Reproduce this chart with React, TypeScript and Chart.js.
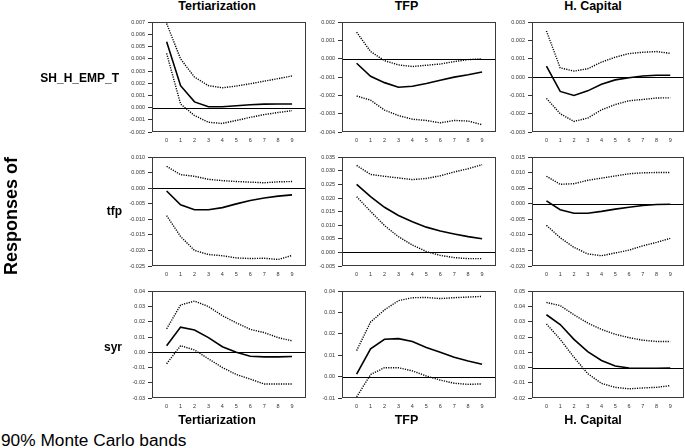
import React, { useEffect, useRef } from "react";
import { Chart, registerables } from "chart.js";

Chart.register(...registerables);

const FONT = "'Liberation Sans', Arial, Helvetica, sans-serif";

const periods = [0, 1, 2, 3, 4, 5, 6, 7, 8, 9];
const colTitles = ["Tertiarization", "TFP", "H. Capital"];
const rowTitles = ["SH_H_EMP_T", "tfp", "syr"];
const footNote = "90% Monte Carlo bands";
const sideTitle = "Responses of";

// Row 1: SH_H_EMP_T
const shTertMid = [0.0054, 0.0018, 0.00047, 0.00007, 0.00007, 0.00015, 0.00023, 0.00029, 0.0003, 0.0003];
const shTertHi = [0.0069, 0.004, 0.0025, 0.0018, 0.00163, 0.00177, 0.00196, 0.00217, 0.00238, 0.0026];
const shTertLo = [0.00445, 0.0003, -0.00065, -0.0012, -0.0013, -0.00105, -0.0008, -0.00057, -0.0004, -0.00025];

const shTfpMid = [-0.00024, -0.00095, -0.0013, -0.00155, -0.0015, -0.00135, -0.00117, -0.001, -0.00087, -0.00072];
const shTfpHi = [0.00146, 0.0004, -0.0001, -0.00033, -0.00042, -0.00035, -0.00028, -0.00015, -0.00004, 0.0];
const shTfpLo = [-0.00203, -0.00226, -0.0028, -0.0031, -0.0033, -0.00337, -0.0035, -0.00337, -0.0034, -0.0036];

const shHcMid = [0.0006, -0.00078, -0.001, -0.00075, -0.00039, -0.00015, -0.00003, 0.00006, 0.0001, 0.0001];
const shHcHi = [0.00253, 0.00051, 0.00033, 0.00046, 0.00082, 0.00109, 0.00129, 0.00136, 0.0014, 0.0013];
const shHcLo = [-0.00116, -0.002, -0.00242, -0.00224, -0.00179, -0.0015, -0.00129, -0.00122, -0.00114, -0.00113];

// Row 2: tfp
const tfpTertMid = [-0.00085, -0.0053, -0.0069, -0.0069, -0.0062, -0.005, -0.0039, -0.0031, -0.0025, -0.0021];
const tfpTertHi = [0.0071, 0.0044, 0.0039, 0.0029, 0.0025, 0.0022, 0.002, 0.0018, 0.0021, 0.0022];
const tfpTertLo = [-0.0088, -0.0155, -0.02, -0.0213, -0.0217, -0.0224, -0.0226, -0.0225, -0.0229, -0.0216];

const tfpTfpMid = [0.025, 0.0205, 0.0166, 0.0136, 0.0113, 0.0093, 0.0079, 0.0068, 0.0058, 0.005];
const tfpTfpHi = [0.032, 0.0287, 0.028, 0.0274, 0.0268, 0.0272, 0.0282, 0.0296, 0.0308, 0.0323];
const tfpTfpLo = [0.0205, 0.0151, 0.0099, 0.0058, 0.0027, 0.0003, -0.0011, -0.0019, -0.0023, -0.0023];

const tfpHcMid = [0.00095, -0.0019, -0.003, -0.003, -0.0024, -0.0017, -0.0011, -0.0005, -0.0002, -0.0001];
const tfpHcHi = [0.0089, 0.0063, 0.0065, 0.0076, 0.0083, 0.009, 0.0097, 0.01, 0.0101, 0.0101];
const tfpHcLo = [-0.0069, -0.0109, -0.014, -0.0161, -0.0167, -0.0158, -0.0149, -0.0135, -0.0124, -0.0111];

// Row 3: syr
const syrTertMid = [0.0043, 0.0165, 0.0146, 0.0096, 0.0036, 0.0, -0.0026, -0.003, -0.003, -0.0028];
const syrTertHi = [0.0154, 0.031, 0.0336, 0.03, 0.024, 0.0193, 0.015, 0.0129, 0.0096, 0.0075];
const syrTertLo = [-0.0075, 0.0043, 0.0015, -0.0043, -0.01, -0.0146, -0.0176, -0.0208, -0.0208, -0.0208];

const syrTfpMid = [0.0012, 0.013, 0.0175, 0.0178, 0.0165, 0.0137, 0.0114, 0.0091, 0.0073, 0.0058];
const syrTfpHi = [0.0122, 0.0256, 0.0313, 0.0356, 0.037, 0.0371, 0.0366, 0.037, 0.0373, 0.0376];
const syrTfpLo = [-0.0095, 0.001, 0.0042, 0.0042, 0.0027, 0.0003, -0.0016, -0.0031, -0.0036, -0.0034];

const syrHcMid = [0.0346, 0.0282, 0.0185, 0.0104, 0.0046, 0.001, -0.0003, -0.0005, -0.0005, -0.0003];
const syrHcHi = [0.0427, 0.0406, 0.0346, 0.0292, 0.025, 0.0218, 0.0196, 0.0179, 0.0171, 0.0171];
const syrHcLo = [0.0286, 0.0185, 0.0067, -0.004, -0.0104, -0.013, -0.014, -0.0134, -0.013, -0.0119];

// Y axis ranges per panel: [min, max, step, decimals]
const shTertAxis = [-0.002, 0.007, 0.001, 3];
const shTfpAxis = [-0.004, 0.002, 0.001, 3];
const shHcAxis = [-0.003, 0.003, 0.001, 3];
const tfpTertAxis = [-0.025, 0.01, 0.005, 3];
const tfpTfpAxis = [-0.005, 0.035, 0.005, 3];
const tfpHcAxis = [-0.02, 0.015, 0.005, 3];
const syrTertAxis = [-0.03, 0.04, 0.01, 2];
const syrTfpAxis = [-0.01, 0.04, 0.01, 2];
const syrHcAxis = [-0.02, 0.05, 0.01, 2];

const colLeft = [152, 342, 532];
const colWidth = [154, 154, 152];
const rowTop = [20, 155, 289];
const rowHeight = [112, 111, 109];

const AXIS_W = 36;
const PAD_TOP = 4;
const X_H = 16;

const boxPlugin = {
  id: "boxAndZero",
  beforeDatasetsDraw(chart: any) {
    const { ctx, chartArea } = chart;
    const y0 = chart.scales.y.getPixelForValue(0);
    ctx.save();
    ctx.strokeStyle = "#000";
    ctx.lineWidth = 1;
    ctx.beginPath();
    ctx.moveTo(chartArea.left, Math.round(y0) + 0.5);
    ctx.lineTo(chartArea.right, Math.round(y0) + 0.5);
    ctx.stroke();
    ctx.restore();
  },
  afterDraw(chart: any) {
    const { ctx, chartArea } = chart;
    ctx.save();
    ctx.strokeStyle = "#3a3a3a";
    ctx.lineWidth = 1;
    ctx.strokeRect(
      Math.round(chartArea.left) + 0.5,
      Math.round(chartArea.top) + 0.5,
      Math.round(chartArea.right - chartArea.left) - 1,
      Math.round(chartArea.bottom - chartArea.top) - 1
    );
    ctx.restore();
  },
};

function Panel(props: {
  col: number;
  row: number;
  mid: number[];
  hi: number[];
  lo: number[];
  axis: number[];
}) {
  const ref = useRef<HTMLCanvasElement | null>(null);
  const { col, row, mid, hi, lo, axis } = props;
  const w = colWidth[col] + AXIS_W + 1;
  const h = rowHeight[row] + PAD_TOP + X_H;
  const left = colLeft[col] - AXIS_W;
  const top = rowTop[row] - PAD_TOP;

  useEffect(() => {
    if (!ref.current) return;
    const toPts = (arr: number[]) => arr.map((v, i) => ({ x: periods[i], y: v }));
    const dotted = {
      borderColor: "#000",
      borderWidth: 1.4,
      borderDash: [1.2, 1.2],
      pointRadius: 0,
      tension: 0,
      fill: false,
    };
    const chart = new Chart(ref.current, {
      type: "line",
      data: {
        datasets: [
          { data: toPts(hi), ...dotted },
          { data: toPts(lo), ...dotted },
          {
            data: toPts(mid),
            borderColor: "#000",
            borderWidth: 1.6,
            pointRadius: 0,
            tension: 0,
            fill: false,
          },
        ],
      },
      options: {
        animation: false,
        responsive: false,
        maintainAspectRatio: false,
        layout: { padding: { top: PAD_TOP, right: 1, left: 0, bottom: 0 } },
        plugins: {
          legend: { display: false },
          tooltip: { enabled: false },
          title: { display: false },
        },
        scales: {
          x: {
            type: "linear",
            min: -1.05,
            max: 10,
            grid: { display: false, drawTicks: false },
            border: { display: false },
            afterBuildTicks: (s: any) => {
              s.ticks = periods.map((v) => ({ value: v }));
            },
            afterFit: (s: any) => {
              s.height = X_H;
            },
            ticks: {
              padding: 5,
              autoSkip: false,
              maxRotation: 0,
              color: "#333",
              font: { family: FONT, size: 5.5 },
              callback: (v: any) => String(v),
            },
          },
          y: {
            type: "linear",
            min: axis[0],
            max: axis[1],
            grid: {
              drawOnChartArea: false,
              drawTicks: true,
              tickLength: 4,
              tickColor: "#333",
            },
            border: { display: false },
            afterFit: (s: any) => {
              s.width = AXIS_W;
            },
            ticks: {
              stepSize: axis[2],
              padding: 3,
              color: "#333",
              font: { family: FONT, size: 5.5 },
              callback: (v: any) => Number(v).toFixed(axis[3]),
            },
          },
        },
      },
      plugins: [boxPlugin],
    } as any);
    return () => chart.destroy();
  }, []);

  return (
    <canvas
      ref={ref}
      width={w}
      height={h}
      style={{ position: "absolute", left, top, width: w, height: h }}
    />
  );
}

const panels = [
  { col: 0, row: 0, mid: shTertMid, hi: shTertHi, lo: shTertLo, axis: shTertAxis },
  { col: 1, row: 0, mid: shTfpMid, hi: shTfpHi, lo: shTfpLo, axis: shTfpAxis },
  { col: 2, row: 0, mid: shHcMid, hi: shHcHi, lo: shHcLo, axis: shHcAxis },
  { col: 0, row: 1, mid: tfpTertMid, hi: tfpTertHi, lo: tfpTertLo, axis: tfpTertAxis },
  { col: 1, row: 1, mid: tfpTfpMid, hi: tfpTfpHi, lo: tfpTfpLo, axis: tfpTfpAxis },
  { col: 2, row: 1, mid: tfpHcMid, hi: tfpHcHi, lo: tfpHcLo, axis: tfpHcAxis },
  { col: 0, row: 2, mid: syrTertMid, hi: syrTertHi, lo: syrTertLo, axis: syrTertAxis },
  { col: 1, row: 2, mid: syrTfpMid, hi: syrTfpHi, lo: syrTfpLo, axis: syrTfpAxis },
  { col: 2, row: 2, mid: syrHcMid, hi: syrHcHi, lo: syrHcLo, axis: syrHcAxis },
];

const titleCenters = [217, 406.5, 593];
const rowLabelRight = [119, 122, 122];
const rowLabelTop = [71.5, 205, 341];

export default function App() {
  const bold = { fontFamily: FONT, fontWeight: 700 as const, color: "#000" };
  return (
    <div
      style={{
        position: "fixed",
        left: 0,
        top: 0,
        width: 685,
        height: 448,
        background: "#fff",
        overflow: "hidden",
      }}
    >
      {panels.map((p, i) => (
        <Panel key={i} {...p} />
      ))}
      {colTitles.map((t, i) => (
        <div
          key={"t" + i}
          style={{
            ...bold,
            position: "absolute",
            left: titleCenters[i] - 100,
            width: 200,
            textAlign: "center",
            top: -0.5,
            fontSize: 12.5,
            lineHeight: "12.5px",
            whiteSpace: "nowrap",
          }}
        >
          {t}
        </div>
      ))}
      {colTitles.map((t, i) => (
        <div
          key={"b" + i}
          style={{
            ...bold,
            position: "absolute",
            left: titleCenters[i] - 100,
            width: 200,
            textAlign: "center",
            top: 414.4,
            fontSize: 12.5,
            lineHeight: "12.5px",
            whiteSpace: "nowrap",
          }}
        >
          {t}
        </div>
      ))}
      {rowTitles.map((t, i) => (
        <div
          key={"r" + i}
          style={{
            ...bold,
            position: "absolute",
            left: rowLabelRight[i] - 120,
            width: 120,
            textAlign: "right",
            top: rowLabelTop[i],
            fontSize: 12,
            lineHeight: "12px",
            whiteSpace: "nowrap",
          }}
        >
          {t}
        </div>
      ))}
      <div
        style={{
          ...bold,
          position: "absolute",
          left: 10.5 - 80,
          top: 216 - 9,
          width: 160,
          textAlign: "center",
          fontSize: 18,
          lineHeight: "18px",
          transform: "rotate(-90deg)",
          transformOrigin: "50% 50%",
          whiteSpace: "nowrap",
        }}
      >
        {sideTitle}
      </div>
      <div
        style={{
          position: "absolute",
          left: 1,
          top: 432,
          fontFamily: FONT,
          fontSize: 17.3,
          lineHeight: "17.3px",
          color: "#000",
          whiteSpace: "nowrap",
        }}
      >
        {footNote}
      </div>
    </div>
  );
}
